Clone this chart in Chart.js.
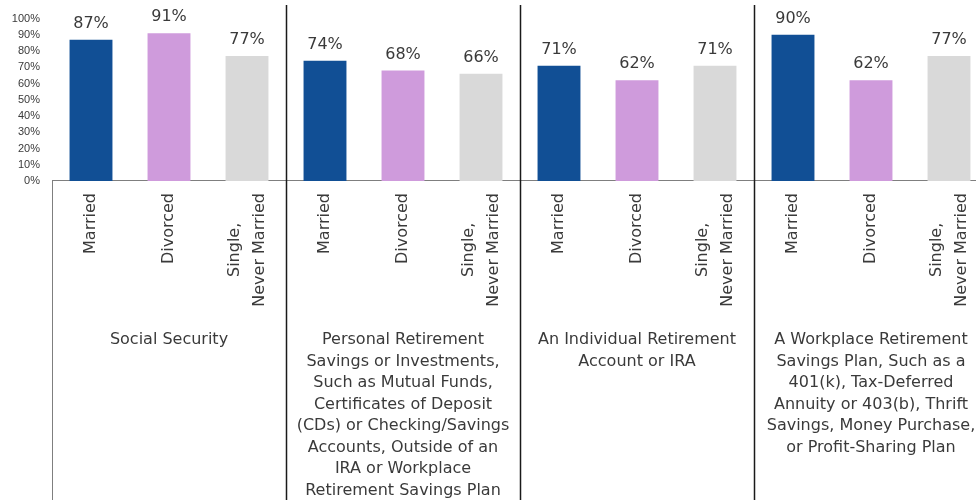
<!DOCTYPE html>
<html lang="en">
<head>
    <meta charset="UTF-8">
    <title>Retirement Income Sources by Marital Status</title>
    <script src="https://cdnjs.cloudflare.com/ajax/libs/Chart.js/4.4.1/chart.umd.min.js"></script>
    <style>
        * {
            margin: 0;
            padding: 0;
            box-sizing: border-box;
        }

        body {
            background: #ffffff;
            width: 976px;
            height: 500px;
            overflow: hidden;
        }

        .chart-wrap {
            width: 988px;
            height: 500px;
        }
    </style>
</head>
<body>
    <div class="chart-wrap">
        <canvas id="incomeChart" width="988" height="500"></canvas>
    </div>

    <script>
        // Marital status categories, repeated under each income source
        const statuses = ['Married', 'Divorced', ['Single,', 'Never Married']];
        const statusColors = ['#114f95', '#cf9bdc', '#d9d9d9'];

        // Income source groups (text already broken into lines)
        const sources = [
            ['Social Security'],
            ['Personal Retirement', 'Savings or Investments,', 'Such as Mutual Funds,', 'Certificates of Deposit',
             '(CDs) or Checking/Savings', 'Accounts, Outside of an', 'IRA or Workplace', 'Retirement Savings Plan'],
            ['An Individual Retirement', 'Account or IRA'],
            ['A Workplace Retirement', 'Savings Plan, Such as a', '401(k), Tax-Deferred', 'Annuity or 403(b), Thrift',
             'Savings, Money Purchase,', 'or Profit-Sharing Plan']
        ];

        // Percent of each group reporting the source
        const shares = [87, 91, 77, 74, 68, 66, 71, 62, 71, 90, 62, 77];

        const yTicks = [0, 10, 20, 30, 40, 50, 60, 70, 80, 90, 100];

        const labels = [];
        const colors = [];
        sources.forEach(() => {
            statuses.forEach((s, i) => {
                labels.push(s);
                colors.push(statusColors[i]);
            });
        });

        const textColor = '#3a3a3a';
        const font = '"DejaVu Sans", sans-serif';

        // Draws value labels, rotated status labels, source labels and group dividers
        const decorPlugin = {
            id: 'decor',
            afterDraw(chart) {
                const ctx = chart.ctx;
                const xs = chart.scales.x;
                const area = chart.chartArea;
                const half = (xs.getPixelForValue(1) - xs.getPixelForValue(0)) / 2;

                ctx.save();

                // value labels above bars
                ctx.fillStyle = textColor;
                ctx.font = '16px ' + font;
                ctx.textAlign = 'center';
                ctx.textBaseline = 'alphabetic';
                chart.getDatasetMeta(0).data.forEach((bar, i) => {
                    ctx.fillText(shares[i] + '%', bar.x, bar.y - 12);
                });

                // rotated status labels, ending just under the axis
                labels.forEach((lab, i) => {
                    const lines = Array.isArray(lab) ? lab : [lab];
                    const maxW = Math.max(...lines.map(l => ctx.measureText(l).width));
                    ctx.save();
                    ctx.translate(xs.getPixelForValue(i), area.bottom + 12 + maxW / 2);
                    ctx.rotate(-Math.PI / 2);
                    ctx.textAlign = 'center';
                    ctx.textBaseline = 'middle';
                    lines.forEach((l, k) => {
                        ctx.fillText(l, 0, (k - (lines.length - 1) / 2) * 25);
                    });
                    ctx.restore();
                });

                // source labels under each group
                sources.forEach((lines, g) => {
                    const cx = xs.getPixelForValue(g * 3 + 1);
                    lines.forEach((l, k) => {
                        ctx.fillText(l, cx, 344 + k * 21.5);
                    });
                });

                // left edge of the category box
                ctx.strokeStyle = '#7f7f7f';
                ctx.lineWidth = 1;
                ctx.beginPath();
                ctx.moveTo(area.left + 0.5, area.bottom);
                ctx.lineTo(area.left + 0.5, 500);
                ctx.stroke();

                // dividers between income sources
                ctx.strokeStyle = '#1a1a1a';
                ctx.lineWidth = 1.5;
                for (let g = 1; g < sources.length; g++) {
                    const x = Math.round(xs.getPixelForValue(g * 3) - half) + 0.5;
                    ctx.beginPath();
                    ctx.moveTo(x, 5);
                    ctx.lineTo(x, 500);
                    ctx.stroke();
                }

                ctx.restore();
            }
        };

        const chart = new Chart(document.getElementById('incomeChart'), {
            type: 'bar',
            data: {
                labels: labels,
                datasets: [{
                    data: shares,
                    backgroundColor: colors,
                    barPercentage: 0.55,
                    categoryPercentage: 1
                }]
            },
            options: {
                responsive: false,
                animation: false,
                devicePixelRatio: 1,
                layout: { padding: { top: 16, left: 0, right: 0, bottom: 0 } },
                plugins: {
                    legend: { display: false },
                    tooltip: { enabled: false }
                },
                scales: {
                    x: {
                        offset: true,
                        grid: { display: false, drawTicks: false },
                        border: { display: true, color: '#7f7f7f', width: 1 },
                        ticks: { display: false },
                        afterFit: s => { s.height = 319; }
                    },
                    y: {
                        min: 0,
                        max: 100,
                        afterBuildTicks: s => { s.ticks = yTicks.map(v => ({ value: v })); },
                        grid: { display: false, drawTicks: false },
                        border: { display: false },
                        ticks: {
                            padding: 12,
                            color: textColor,
                            font: { family: 'Liberation Sans', size: 11 },
                            callback: v => v + '%'
                        },
                        afterFit: s => { s.width = 52; }
                    }
                }
            },
            plugins: [decorPlugin]
        });
    </script>
</body>
</html>
